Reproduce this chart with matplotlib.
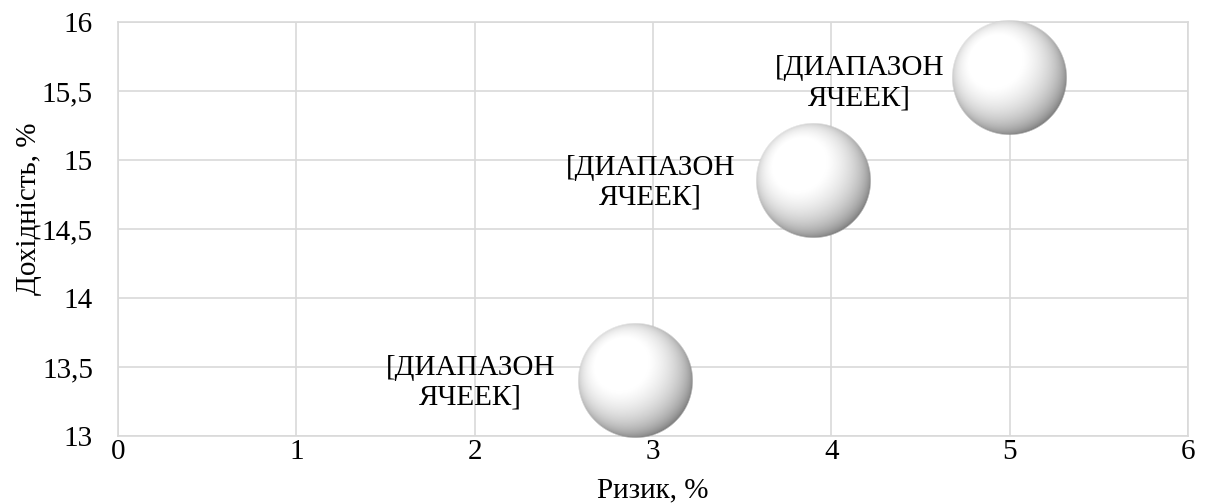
import numpy as np
import matplotlib
matplotlib.use("Agg")
import matplotlib.pyplot as plt
from matplotlib.offsetbox import OffsetImage, AnnotationBbox
from matplotlib.ticker import FuncFormatter

plt.rcParams['font.family'] = ['Liberation Serif', 'DejaVu Serif']

# Portfolio points: risk (x), return (y), bubble size
risk = [2.9, 3.9, 5.0]
returns = [13.4, 14.85, 15.6]
bubble_size = [1.0, 1.0, 1.0]
point_labels = ['[ДИАПАЗОН\nЯЧЕЕК]', '[ДИАПАЗОН\nЯЧЕЕК]', '[ДИАПАЗОН\nЯЧЕЕК]']

x_label = 'Ризик, %'
y_label = 'Дохідність, %'

GRID = '#d9d9d9'
DPI = 100
BASE_DIAM = 115  # pixels for size 1.0
FS = 21


def sphere_image(diam):
    """RGBA image of a grey shaded sphere lit from the upper left."""
    n = int(diam)
    c = (n - 1) / 2.0
    yy, xx = np.mgrid[0:n, 0:n]
    nx = (xx - c) / (n / 2.0)
    ny = -(yy - c) / (n / 2.0)
    r2 = nx ** 2 + ny ** 2
    nz = np.sqrt(np.clip(1 - r2, 0, 1))
    light = np.array([-0.3, 0.35, 1.0])
    light /= np.linalg.norm(light)
    dot = nx * light[0] + ny * light[1] + nz * light[2]
    wrap = 0.5
    f = np.clip((dot + wrap) / (1 + wrap), 0, 1)
    val = np.clip(0.38 + 0.68 * f, 0, 1)
    img = np.zeros((n, n, 4))
    img[..., 0] = val
    img[..., 1] = val
    img[..., 2] = val
    r = np.sqrt(r2) * (n / 2.0)
    img[..., 3] = np.clip((n / 2.0 - r) / 1.5 + 0.3, 0, 1)
    return img


fig = plt.figure(figsize=(12.08, 5.03), dpi=DPI)
ax = fig.add_axes([0.0977, 0.1332, 0.8857, 0.8231])

ax.set_xlim(0, 6)
ax.set_ylim(13, 16)
ax.set_xticks(np.arange(0, 7, 1))
ax.set_yticks(np.arange(13, 16.01, 0.5))
ax.yaxis.set_major_formatter(FuncFormatter(lambda v, p: ('%g' % v).replace('.', ',')))
ax.grid(True, color=GRID, linewidth=1.2)
ax.set_axisbelow(True)
for s in ax.spines.values():
    s.set_color(GRID)
    s.set_linewidth(1.2)
ax.tick_params(length=0, labelsize=FS, colors='black')
ax.tick_params(axis='y', pad=18)
ax.tick_params(axis='x', pad=2)

# bubbles
for x, y, s in zip(risk, returns, bubble_size):
    img = sphere_image(BASE_DIAM * np.sqrt(s))
    ab = AnnotationBbox(OffsetImage(img, zoom=1, dpi_cor=False), (x, y),
                        frameon=False, pad=0, zorder=3)
    ax.add_artist(ab)

# data labels to the left of each bubble
label_offsets = [(-165, -2), (-163, -2), (-150, -6)]
for x, y, txt, off in zip(risk, returns, point_labels, label_offsets):
    ax.annotate(txt, (x, y), xytext=off, textcoords='offset pixels',
                ha='center', va='center', fontsize=FS, linespacing=1.2,
                zorder=4)

ax.set_xlabel(x_label, fontsize=FS)
ax.xaxis.set_label_coords(0.5, -0.1)
ax.set_ylabel(y_label, fontsize=FS)
ax.yaxis.set_label_coords(-0.071, 0.55)

fig.savefig('out.png', dpi=DPI)
